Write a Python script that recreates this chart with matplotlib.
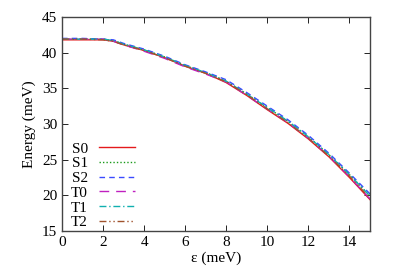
import matplotlib
matplotlib.use("Agg")
import matplotlib.pyplot as plt
import numpy as np

plt.rcParams['font.family'] = ['Liberation Serif', 'DejaVu Serif']

# strain energy (meV)
eps = [0, 1, 2, 2.5, 3, 4, 5, 6, 7, 8, 9, 10, 11, 12, 13, 14, 15]

# energies of each state (meV)
S0 = [41.8, 41.8, 41.8, 41.6, 41.1, 40.3, 39.3, 38.1, 37.1, 35.8, 34.0, 32.0, 30.1, 27.9, 25.4, 22.5, 19.4]
S1 = [41.9, 41.9, 41.9, 41.7, 41.2, 40.4, 39.4, 38.2, 37.2, 36.0, 34.2, 32.3, 30.4, 28.2, 25.7, 22.9, 19.9]
S2 = [42.0, 42.0, 41.9, 41.8, 41.3, 40.5, 39.5, 38.3, 37.3, 36.2, 34.4, 32.5, 30.6, 28.4, 25.9, 23.1, 20.2]
T0 = [41.9, 41.9, 41.9, 41.6, 41.1, 40.2, 39.2, 38.0, 37.0, 35.9, 34.0, 32.1, 30.2, 28.0, 25.5, 22.6, 19.5]
T1 = [41.9, 41.9, 41.9, 41.7, 41.2, 40.4, 39.4, 38.2, 37.2, 36.0, 34.2, 32.3, 30.4, 28.2, 25.7, 22.9, 19.9]
T2 = [41.9, 41.9, 41.8, 41.6, 41.1, 40.3, 39.3, 38.1, 37.1, 35.9, 34.1, 32.1, 30.2, 28.0, 25.5, 22.7, 19.6]

fig = plt.figure(figsize=(3.96, 2.77), dpi=100)
ax = fig.add_axes([62 / 396, 1 - 231 / 277, 308 / 396, 214 / 277])

ax.plot(eps, S0, color='#e41a1c', ls='-', lw=1, label='S0')
ax.plot(eps, S1, color='#1a9a1a', ls=(0, (1, 1.5)), lw=1, label='S1')
ax.plot(eps, S2, color='#3b4bff', ls=(0, (4, 3)), lw=1, label='S2')
ax.plot(eps, T0, color='#c020c0', ls=(0, (7, 5)), lw=1, label='T0')
ax.plot(eps, T1, color='#10b0b0', ls=(0, (5, 2, 1, 2)), lw=1, label='T1')
ax.plot(eps, T2, color='#a0522d', ls=(0, (5, 2, 1, 2, 1, 2)), lw=1, label='T2')

ax.set_xlim(0, 15)
ax.set_ylim(15, 45)
ax.set_xticks(np.arange(0, 15, 2))
ax.set_yticks(np.arange(15, 46, 5))
ax.tick_params(direction='in', top=True, right=True, labelsize=11, length=4, width=0.6)
for s in ax.spines.values():
    s.set_linewidth(1.0)
    s.set_color('#444444')

ax.set_xlabel('ε (meV)', fontsize=11, labelpad=2)
ax.set_ylabel('Energy (meV)', fontsize=11, labelpad=4)

leg = ax.legend(loc='lower left', bbox_to_anchor=(0.0, -0.035), frameon=False,
                markerfirst=False, handlelength=2.4, handletextpad=0.7,
                labelspacing=0.07, fontsize=11, borderaxespad=0.2)

fig.savefig('out.png', dpi=100)
